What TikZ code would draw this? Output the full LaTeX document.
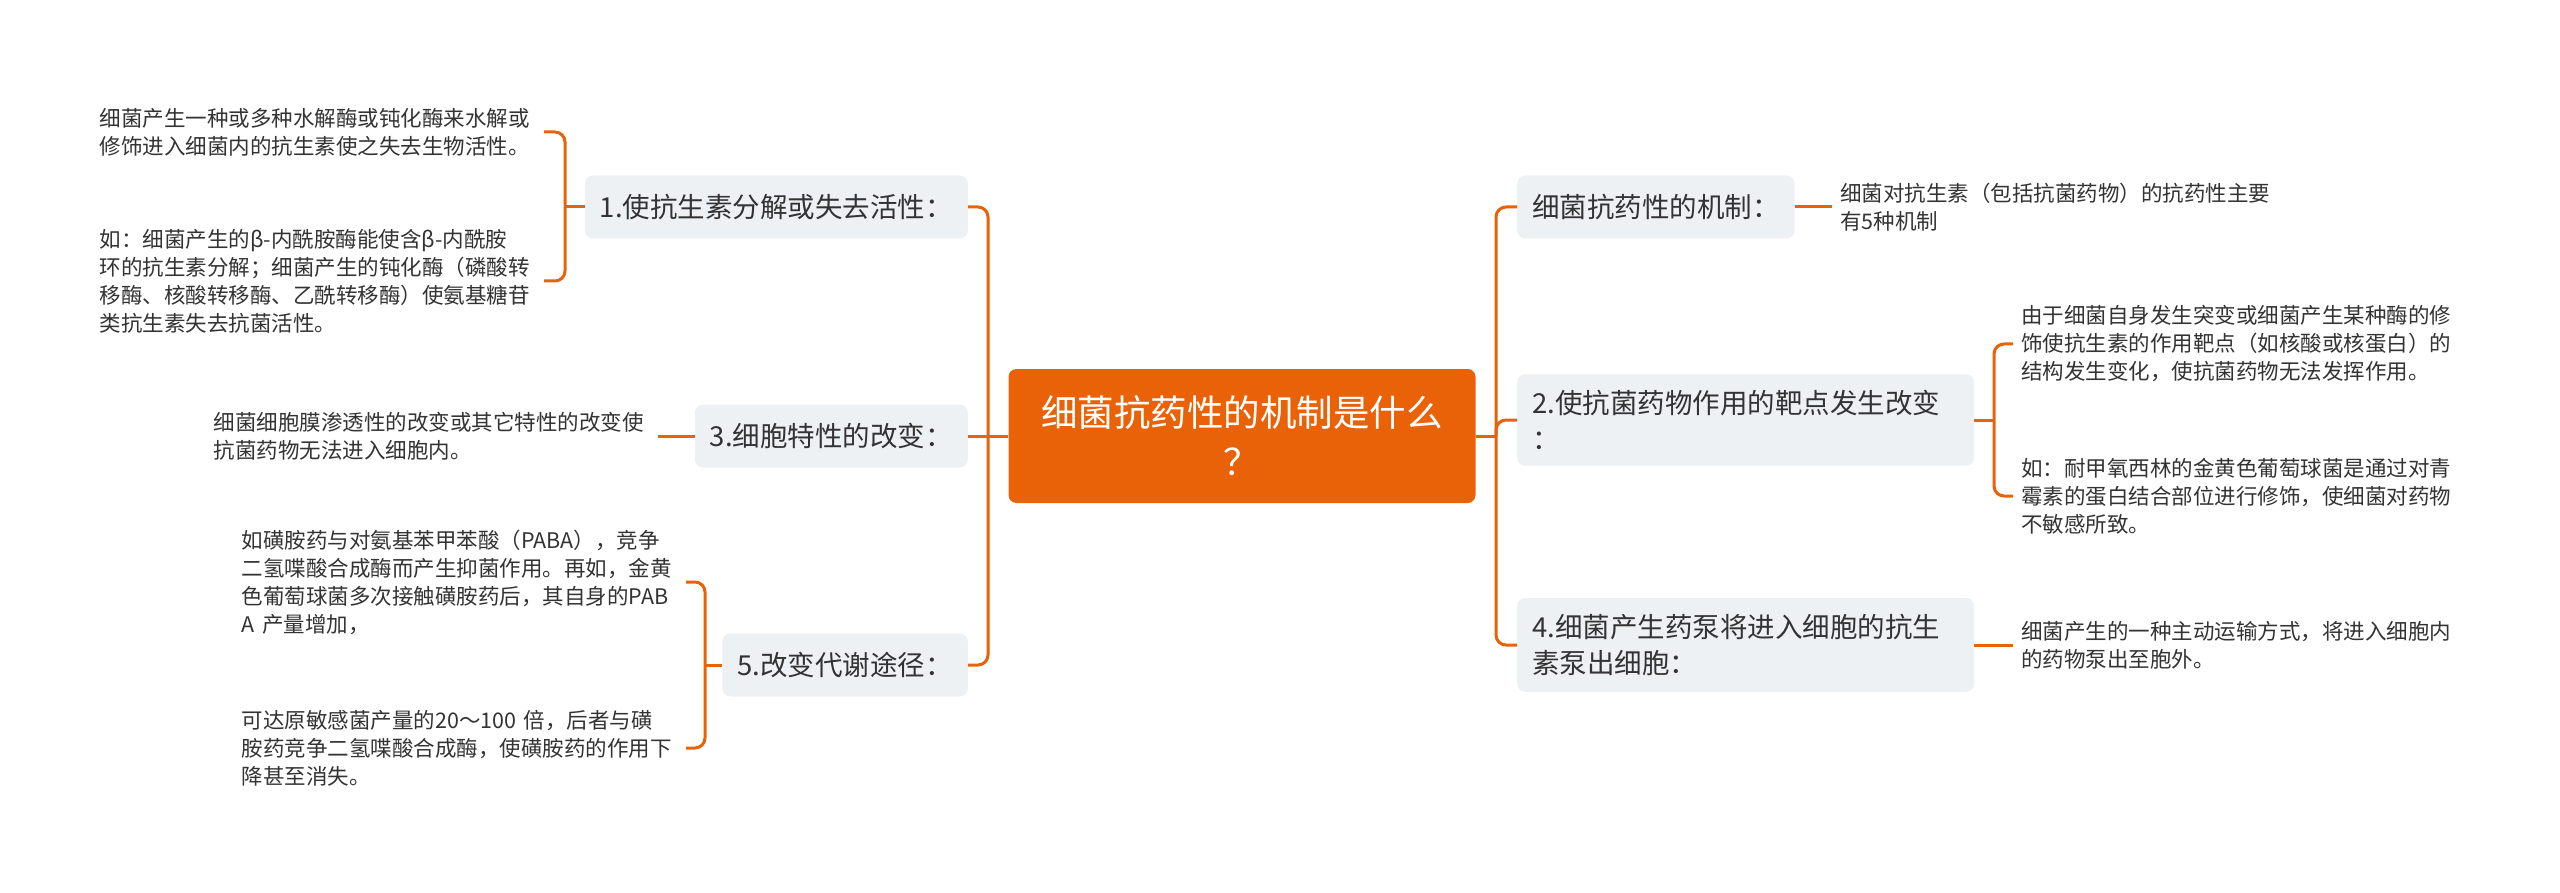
\documentclass[tikz,border=0pt]{standalone}
\usepackage{fontspec}
\setmainfont{Noto Sans CJK SC}
\definecolor{org}{HTML}{EA6208}
\definecolor{gbox}{HTML}{EEF1F4}
\definecolor{txt}{HTML}{333333}
\begin{document}
\begin{tikzpicture}[x=1pt,y=-1pt,
 conn/.style={draw=org,line width=3pt,rounded corners=10pt},
 mainbox/.style={fill=org,rounded corners=8pt,text=white,font=\fontsize{36.5}{49}\selectfont,align=center,minimum width=467pt,minimum height=134pt,inner sep=0pt},
 branch/.style={fill=gbox,rounded corners=8pt,text=txt,font=\fontsize{27.5}{36}\selectfont,align=left,inner xsep=15pt,inner ysep=16pt,minimum height=63pt},
 leaf/.style={text=txt,font=\fontsize{21.5}{28}\selectfont,align=left,inner xsep=8pt,inner ysep=4pt},
 leafL/.style={leaf,text width=436pt,anchor=east},
 leafR/.style={leaf,anchor=west}]
\useasboundingbox[fill=white] (0,0) rectangle (2560,893);

% central
\node[mainbox] (C) at (1242,436) {细菌抗药性的机制是什么\\？};

% branches
\node[branch,anchor=east] (N1) at (968,207) {1.使抗生素分解或失去活性：};
\node[branch,anchor=east] (N3) at (968,436) {3.细胞特性的改变：};
\node[branch,anchor=east] (N5) at (968,665) {5.改变代谢途径：};
\node[branch,anchor=west] (R1) at (1517,207) {细菌抗药性的机制：};
\node[branch,anchor=west,text width=427pt] (R2) at (1517,420) {2.使抗菌药物作用的靶点发生改变\\：};
\node[branch,anchor=west,text width=427pt] (R4) at (1517,645) {4.细菌产生药泵将进入细胞的抗生\\素泵出细胞：};

% leaves
\node[leafL] (L1a) at (544,132) {细菌产生一种或多种水解酶或钝化酶来水解或\\修饰进入细菌内的抗生素使之失去生物活性。};
\node[leafL] (L1b) at (544,281) {如：细菌产生的β-内酰胺酶能使含β-内酰胺\\环的抗生素分解；细菌产生的钝化酶（磷酸转\\移酶、核酸转移酶、乙酰转移酶）使氨基糖苷\\类抗生素失去抗菌活性。};
\node[leafL] (L3) at (658,436) {细菌细胞膜渗透性的改变或其它特性的改变使\\抗菌药物无法进入细胞内。};
\node[leafL] (L5a) at (686,582) {如磺胺药与对氨基苯甲苯酸（PABA），竞争\\二氢喋酸合成酶而产生抑菌作用。再如，金黄\\色葡萄球菌多次接触磺胺药后，其自身的PAB\\A 产量增加，};
\node[leafL] (L5b) at (686,748) {可达原敏感菌产量的20～100 倍，后者与磺\\胺药竞争二氢喋酸合成酶，使磺胺药的作用下\\降甚至消失。};
\node[leafR] (M1) at (1832,207) {细菌对抗生素（包括抗菌药物）的抗药性主要\\有5种机制};
\node[leafR] (M2a) at (2013,344) {由于细菌自身发生突变或细菌产生某种酶的修\\饰使抗生素的作用靶点（如核酸或核蛋白）的\\结构发生变化，使抗菌药物无法发挥作用。};
\node[leafR] (M2b) at (2013,496) {如：耐甲氧西林的金黄色葡萄球菌是通过对青\\霉素的蛋白结合部位进行修饰，使细菌对药物\\不敏感所致。};
\node[leafR] (M4) at (2013,645) {细菌产生的一种主动运输方式，将进入细胞内\\的药物泵出至胞外。};

% trunks
\coordinate (LT) at (988,436);
\coordinate (RT) at (1496,436);
\draw[conn] (C.west) -- (LT);
\draw[conn] (N1.east) -| (LT) |- (N5.east);
\draw[conn] (LT) -- (N3.east);
\draw[conn] (C.east) -- (RT);
\draw[conn] (R1.west) -| (RT) |- (R4.west);
\draw[conn] (RT) |- (R2.west);

% brackets
\coordinate (B1) at (565,207);
\draw[conn] (N1.west) -- (B1);
\draw[conn] (L1a.east) -| (B1) |- (L1b.east);
\draw[conn] (N3.west) -- (L3.east);
\coordinate (B5) at (705,665);
\draw[conn] (N5.west) -- (B5);
\draw[conn] (L5a.east) -| (B5) |- (L5b.east);
\draw[conn] (R1.east) -- (M1.west);
\coordinate (BR2) at (1994,420);
\draw[conn] (R2.east) -- (BR2);
\draw[conn] (M2a.west) -| (BR2) |- (M2b.west);
\draw[conn] (R4.east) -- (M4.west);
\end{tikzpicture}
\end{document}
